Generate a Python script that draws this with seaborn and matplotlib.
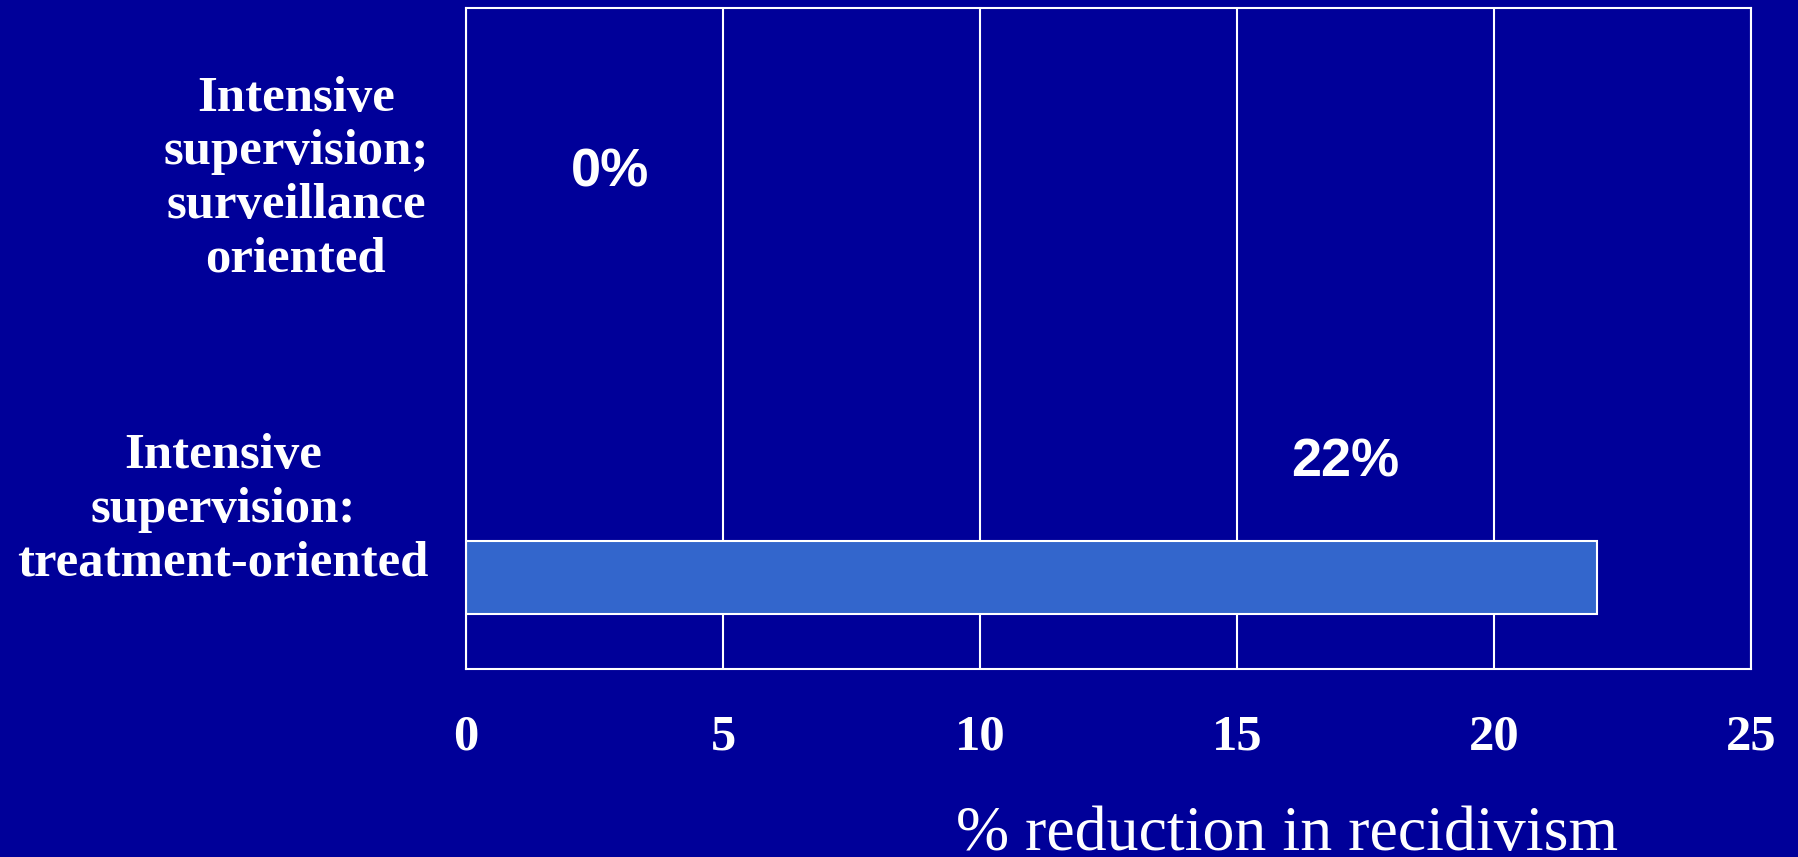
import matplotlib
matplotlib.use("Agg")
import matplotlib.pyplot as plt
import seaborn as sns
import pandas as pd

# Chart data
programs = [
    "Intensive\nsupervision;\nsurveillance\noriented",
    "Intensive\nsupervision:\ntreatment-oriented",
]
reduction = [0, 22]
x_ticks = [0, 5, 10, 15, 20, 25]
x_label = "% reduction in recidivism"

# Layout of the value labels (x in data units, y relative to the category slot)
label_x = [2.8, 17.1]
label_dy = [-0.225, -0.35]

BG = "#000099"
BAR = "#3366CC"
FG = "white"

sns.set_style("white")
plt.rcParams["font.family"] = ["Liberation Serif", "DejaVu Serif"]

df = pd.DataFrame({"program": programs, "reduction": reduction})

fig = plt.figure(figsize=(17.98, 8.57), dpi=100, facecolor=BG)
ax = fig.add_axes([0.2592, 0.2194, 0.9739 - 0.2592, 0.9907 - 0.2194])
ax.set_facecolor(BG)

sns.barplot(data=df, x="reduction", y="program", order=programs,
            color=BAR, saturation=1, width=0.221,
            edgecolor=FG, linewidth=1.5, ax=ax)

# Each bar sits in the lower part of its category band
offset = 0.224
ax.set_ylim(len(programs) - 0.5 - offset, -0.5 - offset)
ax.set_xlim(x_ticks[0], x_ticks[-1])

bounds = [i - 0.5 - offset for i in range(len(programs) + 1)]
centers = [i - offset - 0.01 for i in range(len(programs))]
ax.set_yticks(bounds, labels=[""] * len(bounds))
ax.set_yticks(centers, labels=programs, minor=True)
ax.tick_params(axis="y", which="major", length=11, width=1.5, color=FG)
ax.tick_params(axis="y", which="minor", length=0, pad=27)
for t in ax.get_yticklabels(minor=True):
    t.set_color(FG)
    t.set_fontsize(36.5)
    t.set_fontweight("bold")
    t.set_multialignment("center")
    t.set_linespacing(1.22)

ax.set_xticks(x_ticks, labels=[str(v) for v in x_ticks])
ax.tick_params(axis="x", length=10, width=1.5, color=FG, pad=23,
               labelsize=36.5, labelcolor=FG)
for t in ax.get_xticklabels():
    t.set_fontweight("bold")

ax.grid(axis="x", color=FG, linewidth=1.5)
ax.grid(axis="y", visible=False)
ax.set_axisbelow(True)
for s in ax.spines.values():
    s.set_visible(True)
    s.set_color(FG)
    s.set_linewidth(1.5)

ax.set_ylabel("")
ax.set_xlabel(x_label, fontsize=46, color=FG, fontweight="normal")
ax.xaxis.set_label_coords(0.639, -0.274)
ax.xaxis.label.set_verticalalignment("baseline")

for i, v in enumerate(reduction):
    ax.text(label_x[i], i + label_dy[i], f"{v}%", ha="center", va="center",
            color=FG, fontsize=39, fontweight="bold",
            family=["Liberation Sans", "DejaVu Sans"])

fig.savefig("out.png", dpi=100, facecolor=BG)
